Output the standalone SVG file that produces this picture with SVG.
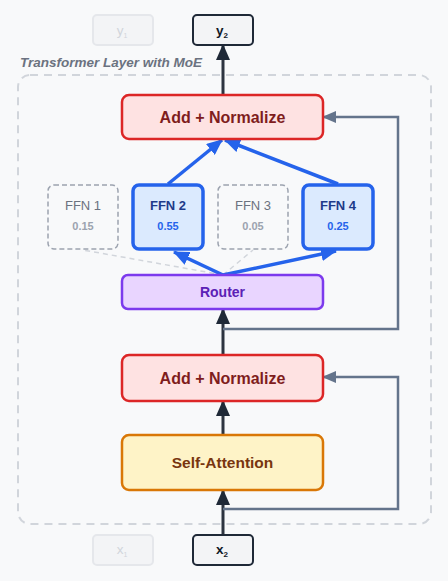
<svg xmlns="http://www.w3.org/2000/svg" width="448" height="581" viewBox="0 0 448 581">
<style>
text{font-family:"Liberation Sans",Arial,sans-serif;text-anchor:middle}
.io{fill:#f3f4f6;stroke:#1f2937;stroke-width:2}
.ioGhost{fill:#f3f4f6;stroke:#e5e7eb;stroke-width:2}
.ioT{font-size:13.5px;font-weight:bold;fill:#111827}
.ioG{font-size:13.5px;fill:#d1d5db}
.norm{fill:#fee2e2;stroke:#dc2626;stroke-width:2.5}
.normT{font-size:16px;font-weight:bold;fill:#7f1d1d}
.attn{fill:#fef3c7;stroke:#d97706;stroke-width:2.5}
.attnT{font-size:15.5px;font-weight:bold;fill:#78350f}
.router{fill:#e9d5ff;stroke:#7c3aed;stroke-width:2.5}
.routerT{font-size:14px;font-weight:bold;fill:#5b21b6}
.ffnOn{fill:#dbeafe;stroke:#2563eb;stroke-width:3.5}
.ffnOff{fill:none;stroke:#9ca3af;stroke-width:1.5;stroke-dasharray:5 3}
.ffnOnT{font-size:13px;font-weight:bold;fill:#1e3a8a}
.ffnOnV{font-size:11px;font-weight:bold;fill:#2563eb}
.ffnOffT{font-size:13px;fill:#6b7280}
.ffnOffV{font-size:11px;font-weight:bold;fill:#9ca3af}
.main{stroke:#2d3440;stroke-width:3;fill:none}
.skip{stroke:#64748b;stroke-width:2.5;fill:none}
.blue{stroke:#2563eb;stroke-width:3.5;fill:none}
.ghost{stroke:#d1d5db;stroke-width:1.5;fill:none;stroke-dasharray:5 4}
</style>
<defs>
<marker id="ad" markerUnits="userSpaceOnUse" markerWidth="16" markerHeight="14" refX="15" refY="7" orient="auto"><path d="M0,0 L16,7 L0,14 z" fill="#1f2937"/></marker>
<marker id="ab" markerUnits="userSpaceOnUse" markerWidth="16" markerHeight="14" refX="15" refY="7" orient="auto"><path d="M0,0 L16,7 L0,14 z" fill="#2563eb"/></marker>
<marker id="as" markerUnits="userSpaceOnUse" markerWidth="14" markerHeight="12" refX="13" refY="6" orient="auto"><path d="M0,0 L14,6 L0,12 z" fill="#64748b"/></marker>
</defs>
<rect width="448" height="581" fill="#f8f9fa"/>
<g id="container">
<rect x="18" y="75" width="413" height="449" rx="12" fill="none" stroke="#d1d5db" stroke-width="2" stroke-dasharray="8 6"/>
<text x="20" y="67" style="text-anchor:start;font-size:13.5px;font-weight:bold;font-style:italic;fill:#6b7280">Transformer Layer with MoE</text>
</g>
<g id="connectors">
<line class="main" x1="223" y1="535" x2="223" y2="490" marker-end="url(#ad)"/>
<polyline class="skip" points="223,509 398,509 398,377 323,377" marker-end="url(#as)"/>
<line class="main" x1="223" y1="435" x2="223" y2="401" marker-end="url(#ad)"/>
<line class="main" x1="223" y1="354" x2="223" y2="309" marker-end="url(#ad)"/>
<polyline class="skip" points="223,329 398,329 398,117 323,117" marker-end="url(#as)"/>
<line class="ghost" x1="223" y1="275" x2="83" y2="250"/>
<line class="ghost" x1="223" y1="275" x2="253" y2="250"/>
<line class="blue" x1="223" y1="275" x2="174" y2="252" marker-end="url(#ab)"/>
<line class="blue" x1="223" y1="275" x2="336" y2="251" marker-end="url(#ab)"/>
<line class="blue" x1="168" y1="184" x2="222" y2="140" marker-end="url(#ab)"/>
<line class="blue" x1="338" y1="184" x2="225" y2="140" marker-end="url(#ab)"/>
<line class="main" x1="223" y1="95" x2="223" y2="45" marker-end="url(#ad)"/>
</g>
<g id="y1"><rect class="ioGhost" x="93" y="15" width="60" height="30" rx="4"/><text class="ioG" x="122" y="35">y<tspan font-size="7" dy="3">1</tspan></text></g>
<g id="y2"><rect class="io" x="193" y="15" width="60" height="30" rx="4"/><text class="ioT" x="222" y="35">y<tspan font-size="8" dy="3">2</tspan></text></g>
<g id="addnorm2"><rect class="norm" x="122" y="95" width="201" height="44" rx="7"/><text class="normT" x="222.5" y="122.5">Add + Normalize</text></g>
<g id="ffn1"><rect class="ffnOff" x="48" y="185" width="70" height="64" rx="6"/><text class="ffnOffT" x="83" y="210">FFN 1</text><text class="ffnOffV" x="83" y="230">0.15</text></g>
<g id="ffn2"><rect class="ffnOn" x="133" y="185" width="70" height="64" rx="6"/><text class="ffnOnT" x="168" y="210">FFN 2</text><text class="ffnOnV" x="168" y="230">0.55</text></g>
<g id="ffn3"><rect class="ffnOff" x="218" y="185" width="70" height="64" rx="6"/><text class="ffnOffT" x="253" y="210">FFN 3</text><text class="ffnOffV" x="253" y="230">0.05</text></g>
<g id="ffn4"><rect class="ffnOn" x="303" y="185" width="70" height="64" rx="6"/><text class="ffnOnT" x="338" y="210">FFN 4</text><text class="ffnOnV" x="338" y="230">0.25</text></g>
<g id="router"><rect class="router" x="122" y="275" width="201" height="34" rx="6"/><text class="routerT" x="222.5" y="297">Router</text></g>
<g id="addnorm1"><rect class="norm" x="122" y="355" width="201" height="46" rx="7"/><text class="normT" x="222.5" y="383.5">Add + Normalize</text></g>
<g id="selfattn"><rect class="attn" x="122" y="435" width="201" height="55" rx="7"/><text class="attnT" x="222.5" y="468">Self-Attention</text></g>
<g id="x1"><rect class="ioGhost" x="93" y="535" width="60" height="30" rx="4"/><text class="ioG" x="122" y="554">x<tspan font-size="7" dy="3">1</tspan></text></g>
<g id="x2"><rect class="io" x="193" y="535" width="60" height="30" rx="4"/><text class="ioT" x="222" y="554">x<tspan font-size="8" dy="3">2</tspan></text></g>
</svg>
